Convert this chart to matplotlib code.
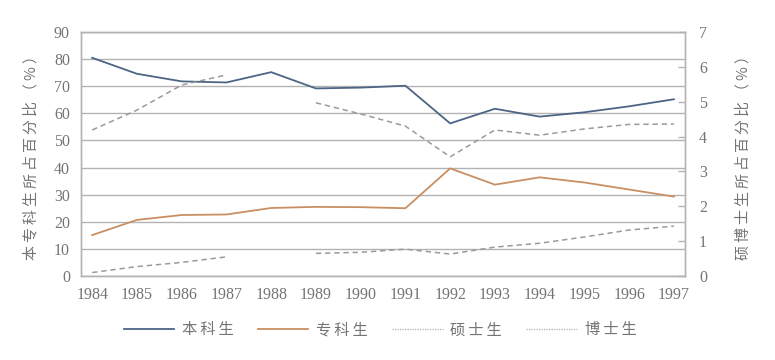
import numpy as np
import matplotlib
matplotlib.use("Agg")
import matplotlib.pyplot as plt

plt.rcParams['font.family'] = ['Liberation Serif', 'Noto Sans CJK SC', 'DejaVu Sans']

years = [1984, 1985, 1986, 1987, 1988, 1989, 1990, 1991, 1992, 1993, 1994, 1995, 1996, 1997]
undergrad = [80.5, 74.6, 71.8, 71.4, 75.2, 69.2, 69.5, 70.2, 56.3, 61.7, 58.8, 60.4, 62.6, 65.2]
college = [15.1, 20.7, 22.5, 22.7, 25.1, 25.5, 25.4, 25.0, 39.7, 33.7, 36.4, 34.5, 31.9, 29.3]
master = [4.19, 4.76, 5.48, 5.77, np.nan, 4.97, 4.65, 4.30, 3.42, 4.19, 4.04, 4.22, 4.35, 4.36]
doctor = [0.10, 0.27, 0.39, 0.55, np.nan, 0.65, 0.68, 0.77, 0.63, 0.83, 0.94, 1.12, 1.32, 1.43]

labels = ['本科生', '专科生', '硕士生', '博士生']
left_label = '本专科生所占百分比（%）'
right_label = '硕博士生所占百分比（%）'

text_color = '#747474'
grid_color = '#b3b3b3'
cjk = ['Noto Sans CJK SC', 'DejaVu Sans']


def spaced(s):
    return '\u2009'.join(s)


fig = plt.figure(figsize=(7.75, 3.6), dpi=100)
ax = fig.add_axes([0.1045, 0.2333, 0.7795, 0.6777])
ax2 = ax.twinx()

l1, = ax.plot(years, undergrad, color='#4c6585', lw=1.3)
l2, = ax.plot(years, college, color='#c98f62', lw=1.3)
l3, = ax2.plot(years, master, color='#9a9a9a', lw=1.1, ls=(0, (3.5, 2.5)))
l4, = ax2.plot(years, doctor, color='#9a9a9a', lw=1.1, ls=(0, (3.5, 2.5)))

ax.set_xlim(1983.75, 1997.25)
ax.set_ylim(0, 90)
ax.set_yticks(range(0, 91, 10))
ax2.set_ylim(0, 7)
ax2.set_yticks(range(0, 8))
ax.set_xticks(years)
ax.set_xticklabels([str(y) for y in years])

ax.yaxis.grid(True, color=grid_color, lw=1)
ax.set_axisbelow(True)

for a in (ax, ax2):
    for s in a.spines.values():
        s.set_color(grid_color)
        s.set_linewidth(1)

ax.tick_params(axis='both', length=0, labelsize=11.5, colors=text_color)
ax.tick_params(axis='y', pad=8)
ax.tick_params(axis='x', pad=8)
ax2.tick_params(axis='y', direction='in', length=5, width=1, color=grid_color,
                labelsize=11.5, labelcolor=text_color, pad=10)

ax.set_ylabel(spaced(left_label), family=cjk, fontsize=10.8, color=text_color, labelpad=11)
ax2.set_ylabel(spaced(right_label), family=cjk, fontsize=10.8, color=text_color, labelpad=21)

leg = ax.legend([l1, l2, l3, l4], [spaced(l) for l in labels], loc='upper center',
                bbox_to_anchor=(0.495, -0.13), ncol=4, frameon=False,
                handlelength=3.3, handletextpad=0.5, columnspacing=1.6,
                prop={'family': cjk, 'size': 11})
for t in leg.get_texts():
    t.set_color(text_color)
for h in leg.legend_handles[2:]:
    h.set_linestyle((0, (1, 1)))
    h.set_linewidth(0.9)
    h.set_color('#b0b0b0')

fig.savefig('out.png', dpi=100, facecolor='white')
